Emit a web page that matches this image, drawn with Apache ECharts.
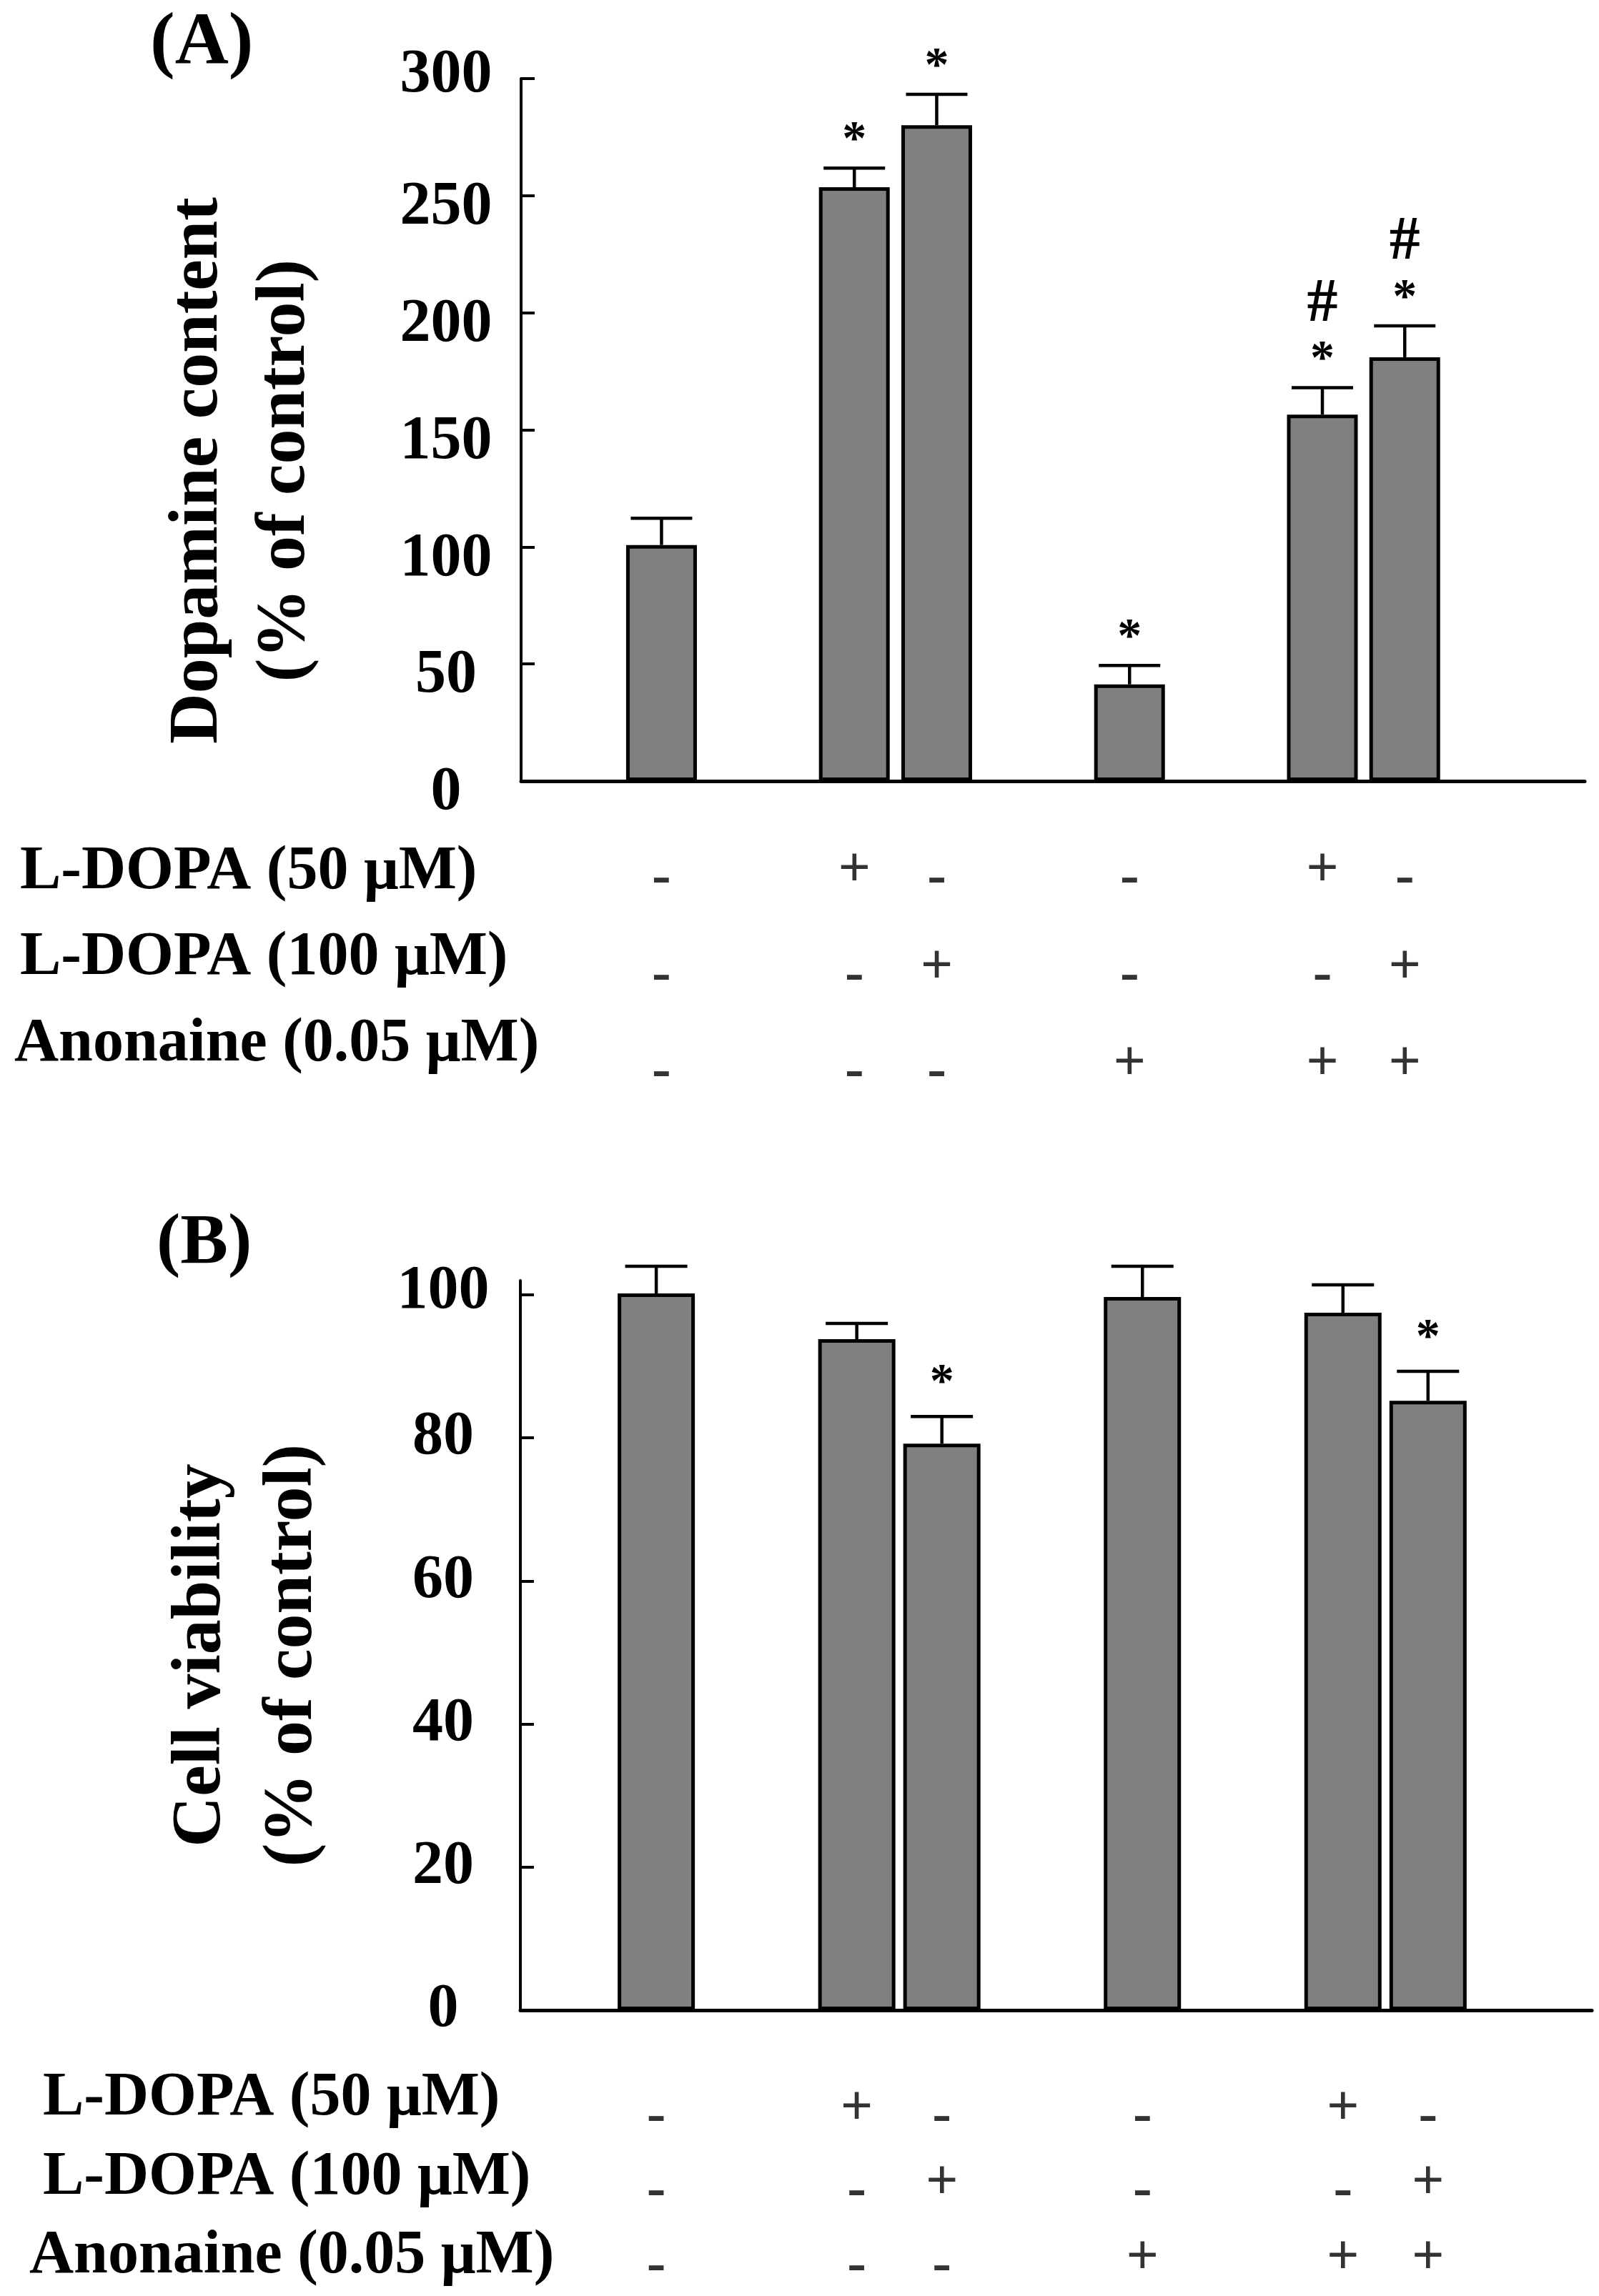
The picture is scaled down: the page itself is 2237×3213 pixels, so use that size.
<!DOCTYPE html>
<html><head><meta charset="utf-8">
<script src="https://cdn.jsdelivr.net/npm/echarts@6/dist/echarts.min.js"></script>
<style>html,body{margin:0;padding:0;background:#fff}#c{width:2237px;height:3213px}</style>
</head><body><div id="c"></div>
<script>
// ---------- data ----------
const groupIndex = [0, 1, 1, 2, 3, 3];
const pairSlot = [0, -1, 1, 0, -1, 1];
const dopamineMean = [100.8, 253.6, 280.1, 41.3, 156.5, 181.0];
const dopamineErrTop = [112.2, 261.8, 293.3, 49.4, 168.0, 194.4];
const viabilityMean = [100.2, 93.8, 79.2, 99.7, 97.5, 85.2];
const viabilityErrTop = [104.0, 96.0, 83.0, 104.0, 101.4, 89.3];
const dopamineMarks = ['', '*', '*', '*', '*#', '*#'];
const viabilityMarks = ['', '', '*', '', '', '*'];
const rowNames = ['L-DOPA (50 \u03bcM)', 'L-DOPA (100 \u03bcM)', 'Anonaine (0.05 \u03bcM)'];
const treatL50 = ['-', '+', '-', '-', '+', '-'];
const treatL100 = ['-', '-', '+', '-', '-', '+'];
const treatAnon = ['-', '-', '-', '+', '+', '+'];
const dopamineTicks = [0, 50, 100, 150, 200, 250, 300];
const viabilityTicks = [0, 20, 40, 60, 80, 100];

const FONT = '"Liberation Serif", "Times New Roman", serif';
const chart = echarts.init(document.getElementById('c'), null, {renderer: 'canvas'});

const panels = [
  {key: 'A', title: '(A)', titleTop: 5, titleLeft: 205, titleSize: 104,
   grid: {left: 729, top: 110, width: 1488, height: 983},
   xMin: -0.600, xMax: 3.945, half: 0.176, barWidth: 99, cap: 86,
   yMax: 300, ticks: dopamineTicks, mean: dopamineMean, err: dopamineErrTop, marks: dopamineMarks,
   name: 'Dopamine content\n(% of control)', nameLH: 122, nameGap: 268, namePadR: 114,
   labelMargin: 105, starGap: 38, hashGap: 116,
   rowGrid: {top: 1160, height: 362}, rowAnchor: 20, rowPad: 8,
   markGrid: {top: 1152, height: 406}},
  {key: 'B', title: '(B)', titleTop: 1686, titleLeft: 214, titleSize: 100,
   grid: {left: 728, top: 1792, width: 1499, height: 1021},
   xMin: -0.559, xMax: 3.849, half: 0.175, barWidth: 108, cap: 87,
   yMax: 102, ticks: viabilityTicks, mean: viabilityMean, err: viabilityErrTop, marks: viabilityMarks,
   name: 'Cell viability\n(% of control)', nameLH: 128, nameGap: 254, namePadR: 28,
   labelMargin: 108, starGap: 46, hashGap: 116,
   rowGrid: {top: 2882, height: 348}, rowAnchor: 41, rowPad: 19,
   markGrid: {top: 2900, height: 324}}
];

const option = {backgroundColor: '#fff', animation: false, title: [], grid: [], xAxis: [], yAxis: [], series: []};

panels.forEach((p, pi) => {
  const xs = groupIndex.map((g, i) => g + pairSlot[i] * p.half);
  option.title.push({text: p.title, left: p.titleLeft, top: p.titleTop,
    textStyle: {fontFamily: FONT, fontWeight: 'bold', fontSize: p.titleSize, lineHeight: p.titleSize, color: '#000'}});
  const gChart = option.grid.length;
  option.grid.push(Object.assign({containLabel: false}, p.grid));
  const gRow = option.grid.length;
  option.grid.push({left: p.grid.left, width: p.grid.width, top: p.rowGrid.top, height: p.rowGrid.height});
  const gMark = option.grid.length;
  option.grid.push({left: p.grid.left, width: p.grid.width, top: p.markGrid.top, height: p.markGrid.height});

  // chart axes
  const xChart = option.xAxis.length;
  option.xAxis.push({type: 'value', gridIndex: gChart, min: p.xMin, max: p.xMax,
    axisLine: {show: true, onZero: false, lineStyle: {color: '#000', width: 5}},
    axisTick: {show: false}, axisLabel: {show: false}, splitLine: {show: false}});
  const yChart = option.yAxis.length;
  option.yAxis.push({type: 'value', gridIndex: gChart, min: 0, max: p.yMax, position: 'left',
    name: p.name, nameLocation: 'middle', nameRotate: 90, nameGap: p.nameGap,
    nameTextStyle: {fontFamily: FONT, fontWeight: 'bold', fontSize: 98, lineHeight: p.nameLH, color: '#000',
      padding: [0, p.namePadR, 0, 0]},
    axisLine: {show: true, onZero: false, lineStyle: {color: '#000', width: 4}},
    axisTick: {show: true, inside: true, length: 19, lineStyle: {color: '#000', width: 4}, customValues: p.ticks},
    axisLabel: {show: true, customValues: p.ticks, align: 'center', margin: p.labelMargin,
      fontFamily: FONT, fontWeight: 'bold', fontSize: 86, color: '#000',
      formatter: function (v) {
        if (p.key === 'A') return (v === p.yMax ? '{t|' : '{n|') + v + '}';
        return (v === 100 ? '{t|' : '{b|') + v + '}';
      },
      rich: {
        t: {fontFamily: FONT, fontWeight: 'bold', fontSize: 86, color: '#000', padding: [0, 0, 8, 0]},
        n: {fontFamily: FONT, fontWeight: 'bold', fontSize: 86, color: '#000', padding: [34, 0, 0, 0]},
        b: {fontFamily: FONT, fontWeight: 'bold', fontSize: 86, color: '#000'}
      }},
    splitLine: {show: false}});

  option.series.push({type: 'bar', xAxisIndex: xChart, yAxisIndex: yChart, barWidth: p.barWidth,
    data: xs.map((x, i) => [x, p.mean[i]]),
    itemStyle: {color: '#808080', borderColor: '#000', borderWidth: 5}, z: 2});

  option.series.push({type: 'custom', xAxisIndex: xChart, yAxisIndex: yChart, z: 5,
    data: xs.map((x, i) => [x, p.mean[i], p.err[i]]),
    renderItem: function (params, api) {
      const x = api.value(0);
      const top = api.coord([x, api.value(1)]);
      const e = api.coord([x, api.value(2)]);
      const lw = 4.5;
      const children = [
        {type: 'line', shape: {x1: top[0], y1: top[1], x2: e[0], y2: e[1]}, style: {stroke: '#000', lineWidth: lw}},
        {type: 'line', shape: {x1: e[0] - p.cap / 2, y1: e[1], x2: e[0] + p.cap / 2, y2: e[1]}, style: {stroke: '#000', lineWidth: lw}}
      ];
      const m = p.marks[params.dataIndex];
      if (m.indexOf('*') >= 0) children.push({type: 'text', style: {text: '*', x: e[0], y: e[1] - p.starGap,
        align: 'center', verticalAlign: 'middle', font: 'bold 68px ' + FONT, fill: '#000'}});
      if (m.indexOf('#') >= 0) children.push({type: 'text', style: {text: '#', x: e[0], y: e[1] - p.hashGap,
        align: 'center', verticalAlign: 'middle', font: 'bold 86px ' + FONT, fill: '#000'}});
      return {type: 'group', children: children};
    }});

  // row names
  option.xAxis.push({type: 'value', gridIndex: gRow, min: p.xMin, max: p.xMax, show: false});
  option.yAxis.push({type: 'category', gridIndex: gRow, inverse: true, data: rowNames,
    axisLine: {show: false}, axisTick: {show: false}, splitLine: {show: false},
    axisLabel: {show: true, align: 'left', margin: p.grid.left - p.rowAnchor, interval: 0,
      formatter: function (v, idx) { return (idx < 2 ? '{s|' : '{a|') + v + '}'; },
      rich: {
        s: {fontFamily: FONT, fontWeight: 'bold', fontSize: 86, color: '#000', padding: [0, 0, 0, p.rowPad]},
        a: {fontFamily: FONT, fontWeight: 'bold', fontSize: 86, color: '#000'}
      }}});

  // +/- marks
  const xMark = option.xAxis.length;
  option.xAxis.push({type: 'value', gridIndex: gMark, min: p.xMin, max: p.xMax, show: false});
  const yMark = option.yAxis.length;
  option.yAxis.push({type: 'category', gridIndex: gMark, inverse: true, data: rowNames, show: false});
  const rows = [treatL50, treatL100, treatAnon];
  const markData = [];
  rows.forEach((r, ri) => r.forEach((s, i) => markData.push({value: [xs[i], ri], sign: s})));
  option.series.push({type: 'scatter', xAxisIndex: xMark, yAxisIndex: yMark, symbolSize: 1,
    itemStyle: {color: 'rgba(0,0,0,0)'}, data: markData,
    label: {show: true, position: 'inside',
      formatter: function (prm) { return prm.data.sign === '+' ? '{p|+}' : '{m|-}'; },
      rich: {
        p: {fontFamily: FONT, fontWeight: 'bold', fontSize: 80, color: '#000'},
        m: {fontFamily: FONT, fontWeight: 'bold', fontSize: 80, color: '#000', padding: [22, 0, 0, 0]}
      }}});
});

chart.setOption(option);
</script></body></html>
